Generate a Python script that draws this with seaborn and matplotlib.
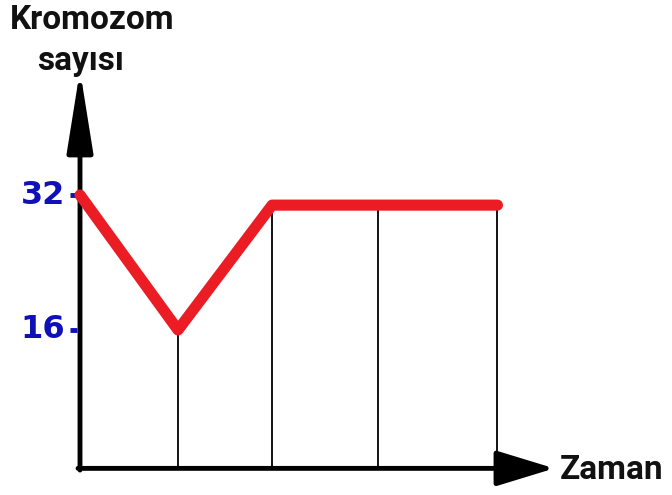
import matplotlib
matplotlib.use('Agg')
import matplotlib.pyplot as plt
import seaborn as sns
import pandas as pd

# values
zaman = [0, 1.0, 1.96, 3.04, 4.26]
kromozom = [32, 16, 30.8, 30.8, 30.8]
ytick_values = [16, 32]
ytick_labels = ["16", "32"]

df = pd.DataFrame({"zaman": zaman, "kromozom": kromozom})

sns.set_theme(style="white")
plt.rcParams['font.family'] = ['Roboto', 'DejaVu Sans']

fig = plt.figure(figsize=(6.72, 4.95), dpi=100)
ax = fig.add_axes([0, 0, 1, 1])
ax.set_xlim(-80 / 98, 592 / 98)
ax.set_ylim(-30 / 8.4375, 465 / 8.4375)
ax.axis('off')

axis_y = -0.4

# thin guide lines under each point (skip the first, it sits on the y axis)
ax.vlines(df["zaman"][1:], axis_y, df["kromozom"][1:], color='black', lw=1.3, zorder=1)

# axes drawn as arrows
ax.annotate("", xy=(4.84, axis_y), xytext=(-0.02, axis_y),
            arrowprops=dict(arrowstyle="-|>,head_length=1.8,head_width=0.55",
                            mutation_scale=20, lw=3.5, color='black',
                            shrinkA=0, shrinkB=0), zorder=2)
ax.annotate("", xy=(0, 46.8), xytext=(0, axis_y - 0.2),
            arrowprops=dict(arrowstyle="-|>,head_length=2.5,head_width=0.4",
                            mutation_scale=20, lw=3.5, color='black',
                            shrinkA=0, shrinkB=0), zorder=2)

sns.lineplot(data=df, x="zaman", y="kromozom", ax=ax, color='#ec1c24',
             lw=8, solid_capstyle='round', solid_joinstyle='round', zorder=3)

# blue tick marks and labels
for v, lab in zip(ytick_values, ytick_labels):
    ax.plot([-0.1, -0.03], [v, v], color='#1010b8', lw=3.5, solid_capstyle='butt')
    ax.text(-0.15, v, lab, color='#1010b8', fontsize=23, fontweight='bold',
            family='DejaVu Sans', ha='right', va='center')

ax.text(92 / 98 - 80 / 98, (465 - 20) / 8.4375, "Kromozom", fontsize=24,
        fontweight='bold', ha='center', va='center', color='#111111')
ax.text(81 / 98 - 80 / 98, (465 - 61) / 8.4375, "sayısı", fontsize=24,
        fontweight='bold', ha='center', va='center', color='#111111')
ax.text((560 - 80) / 98, (465 - 470) / 8.4375, "Zaman", fontsize=24,
        fontweight='bold', ha='left', va='center', color='#111111')

fig.savefig("out.png", dpi=100)
